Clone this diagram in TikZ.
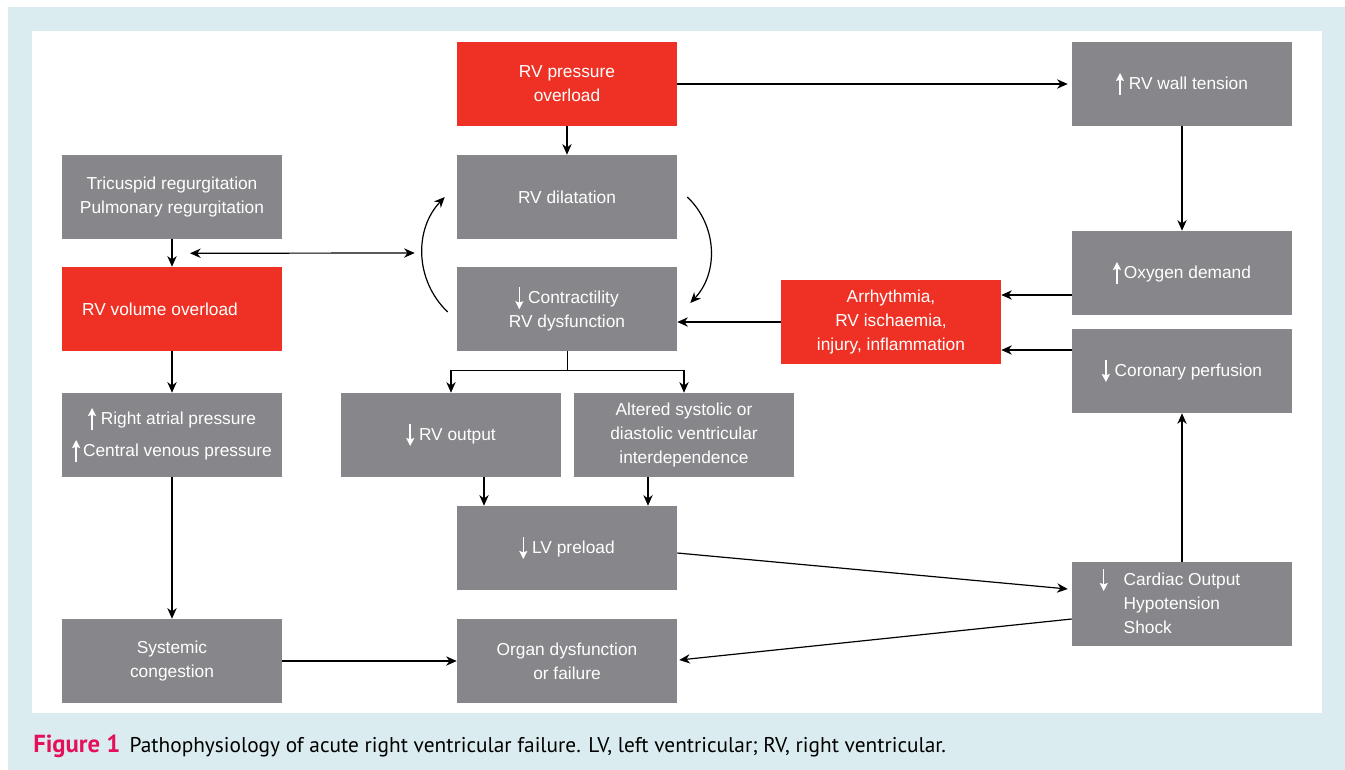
\documentclass[tikz,border=0pt]{standalone}
\usepackage{fontspec}
\setmainfont{Liberation Sans}
\newfontfamily\capfont{PT Sans}
\usepackage{xcolor}
\usepackage{tikz}
\usetikzlibrary{positioning, arrows.meta}
\definecolor{panelbg}{RGB}{219,236,240}
\definecolor{boxgray}{RGB}{135,135,139}
\definecolor{boxred}{RGB}{238,49,36}
\definecolor{figred}{RGB}{228,16,90}
\newcommand{\upar}{\tikz[baseline=0pt]\draw[white, line width=1.1pt, -{Stealth[length=6pt, width=6pt, inset=1pt]}] (0pt,-4pt) -- (0pt,12.5pt);}
\newcommand{\dnar}{\tikz[baseline=0pt]\draw[white, line width=1.1pt, -{Stealth[length=6pt, width=6pt, inset=1pt]}] (0pt,12.5pt) -- (0pt,-4pt);}

\begin{document}
\begin{tikzpicture}[
        x=0.75pt, y=-0.75pt,
        box/.style={rectangle, fill=boxgray, text=white, minimum width=165pt, minimum height=63pt, inner sep=0pt, align=center, font=\fontsize{13}{18}\selectfont},
        alarm/.style={box, fill=boxred},
        arr/.style={-{Stealth[length=8pt, width=7pt]}, line width=0.9pt},
        darr/.style={{Stealth[length=8pt, width=7pt]}-{Stealth[length=8pt, width=7pt]}, line width=0.9pt}
    ]
    \useasboundingbox (0,0) rectangle (1345,770);
    \fill[white] (0,0) rectangle (1345,770);
    \fill[panelbg] (8,7) rectangle (1345,770);
    \fill[white] (32,31) rectangle (1322,713);

    % centre column
    \node[alarm] (press) at (567,84) {RV pressure\\overload};
    \node[box] (dil) at (567,197) {RV dilatation};
    \node[box] (contr) at (567,309) {\dnar\ Contractility\\RV dysfunction};
    \node[box] (rvout) at (451,435) {\dnar\ RV output};
    \node[box] (altered) at (684,435) {Altered systolic or\\diastolic ventricular\\interdependence};
    \node[box] (lvpre) at (567,548) {\dnar\ LV preload};
    \node[box] (organ) at (567,661) {Organ dysfunction\\or failure};

    % left column
    \node[box] (tricus) at (172,197) {Tricuspid regurgitation\\Pulmonary regurgitation};
    \node[alarm] (volume) at (172,309) {RV volume overload\hspace*{18pt}};
    \node[box, font=\fontsize{13}{24}\selectfont] (atrial) at (172,435) {\upar\ Right atrial pressure\\\upar\,Central venous pressure};
    \node[box] (systemic) at (172,661) {Systemic\\congestion};

    % right column
    \node[box] (tension) at (1182,84) {\upar\ RV wall tension};
    \node[box] (oxygen) at (1182,273) {\upar\,Oxygen demand};
    \node[box] (coron) at (1182,371) {\dnar\ Coronary perfusion};
    \node[box, align=left] (cardiac) at (1182,604) {\dnar\hspace{12pt}Cardiac Output\hspace*{18pt}\\\phantom{\dnar}\hspace{12pt}Hypotension\\\phantom{\dnar}\hspace{12pt}Shock};
    \node[alarm] (arrhy) at (891,322) {Arrhythmia,\\RV ischaemia,\\injury, inflammation};

    \draw[arr] (press) -- (dil);
    \draw[arr] (press) -- ([shift={(-4,0)}]tension.west);
    \draw[arr] (tension) -- (oxygen);
    \draw[arr] ([shift={(0,22)}]oxygen.west) -- ([shift={(0,22)}]oxygen.west -| arrhy.east);
    \draw[arr] ([shift={(0,-21)}]coron.west) -- ([shift={(0,-21)}]coron.west -| arrhy.east);
    \draw[arr] (arrhy.west) -- (arrhy.west -| contr.east);
    \draw[arr] (cardiac) -- (coron);
    \draw[arr] ([shift={(0,5)}]lvpre.east) -- ([shift={(-4,-15)}]cardiac.west);
    \draw[arr] ([shift={(0,15)}]cardiac.west) -- ([shift={(2,-1)}]organ.east);
    \draw[arr] (systemic) -- (organ);

    \draw[arr] (tricus) -- (volume);
    \draw[arr] (volume) -- (atrial);
    \draw[arr] (atrial) -- (systemic);
    \draw[darr] ([shift={(18,14)}]tricus.south) -- ([shift={(-42,56)}]dil.west);

    % vicious circle
    \draw[arr] ([shift={(-9,3)}]contr.west) to[bend left=45] ([shift={(-12,0)}]dil.west);
    \draw[arr] ([shift={(10,0)}]dil.east) to[bend left=45] ([shift={(13,-6)}]contr.east);

    % fork below contractility
    \draw (contr.south) -- ++(0,19) coordinate (fork);
    \draw[arr] (fork) -| (rvout);
    \draw[arr] (fork) -| (altered);
    \draw[arr] ([shift={(33,0)}]rvout.south) -- ([shift={(33,0)}]rvout.south |- lvpre.north);
    \draw[arr] ([shift={(-36,0)}]altered.south) -- ([shift={(-36,0)}]altered.south |- lvpre.north);

    \node[anchor=base west, inner sep=0pt, font=\capfont\fontsize{16}{18}\selectfont] (caption) at (33,752)
        {\textcolor{figred}{\fontsize{18.5}{18}\selectfont\textbf{Figure 1}}\hspace{7pt}Pathophysiology of acute right ventricular failure. LV, left ventricular; RV, right ventricular.};
\end{tikzpicture}
\end{document}
